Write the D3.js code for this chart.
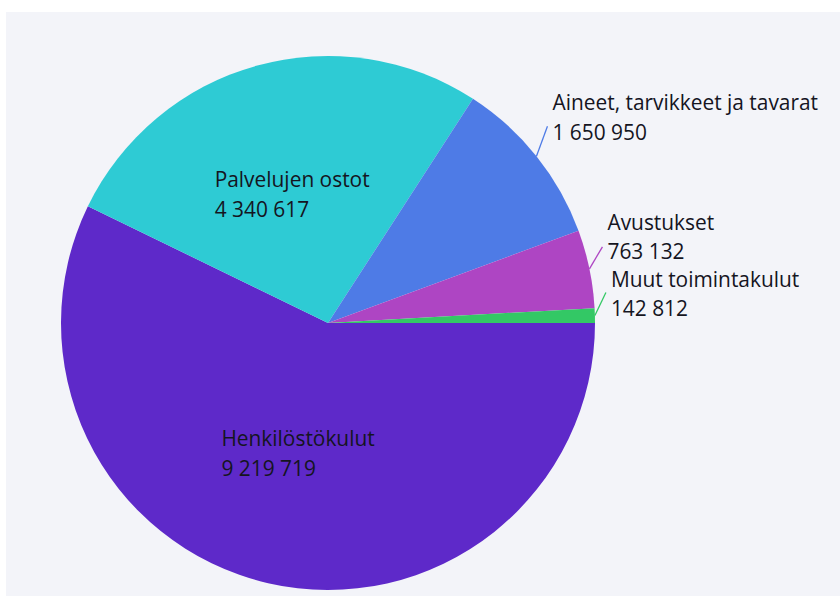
<!DOCTYPE html>
<html><head><meta charset="utf-8">
<script src="https://cdn.jsdelivr.net/npm/d3@7"></script>
<style>body{margin:0;background:#fff;}svg{display:block;}</style>
</head><body>
<svg id="c" width="840" height="596"></svg>
<script>
const categories = ["Henkilöstökulut","Palvelujen ostot","Aineet, tarvikkeet ja tavarat","Avustukset","Muut toimintakulut"];
const values = [9219719, 4340617, 1650950, 763132, 142812];
const colors = ["#5e29c9","#2ecbd4","#4e7be6","#ae45c3","#33c865"];
// label placement: inside (centroid) or outside with leader offsets
const labelMode = ["inside","inside","outside","outside","outside"];
const leaderDx = [0,0,11,13,11];
const leaderDy = [0,0,-30,-22,-23];
const textDy = [0,0,-16,-17,-6];

const fmt = v => d3.format(",")(v).replace(/,/g," ");
const svg = d3.select("#c");
svg.append("rect").attr("x",6).attr("y",12).attr("width",834).attr("height",584).attr("fill","#f3f4f9");

const cx = 328, cy = 323, r = 267;
const g = svg.append("g").attr("transform",`translate(${cx},${cy})`);
const data = categories.map((c,i)=>({c,v:values[i],i}));
const pie = d3.pie().value(d=>d.v).sort(null).startAngle(Math.PI/2).endAngle(Math.PI/2+2*Math.PI);
const arcs = pie(data);
const arc = d3.arc().innerRadius(0).outerRadius(r);
g.selectAll("path.s").data(arcs).join("path").attr("class","s")
  .attr("d",arc).attr("fill",d=>colors[d.data.i]);

const font = "'Segoe UI','Open Sans','Noto Sans',sans-serif";
const fs = 20.9;
arcs.forEach(a=>{
  const i = a.data.i;
  const mid = (a.startAngle+a.endAngle)/2;
  if(labelMode[i]==="inside"){
    const px = Math.sin(mid)*r*0.5, py = -Math.cos(mid)*r*0.5;
    const t = g.append("text").attr("font-family",font).attr("font-size",fs).attr("fill","#15151f");
    t.append("tspan").attr("x",0).attr("y",py-7).text(a.data.c);
    t.append("tspan").attr("x",0).attr("y",py+23).text(fmt(a.data.v));
    const w = t.node().getBBox().width;
    t.selectAll("tspan").attr("x",px-w/2);
  } else {
    const sx = Math.sin(mid)*r, sy = -Math.cos(mid)*r;
    const ex = sx+leaderDx[i], ey = sy+leaderDy[i];
    g.append("line").attr("x1",sx).attr("y1",sy).attr("x2",ex).attr("y2",ey)
      .attr("stroke",colors[i]).attr("stroke-width",1.3);
    const t = g.append("text").attr("font-family",font).attr("font-size",fs).attr("fill","#15151f");
    t.append("tspan").attr("x",ex+5).attr("y",ey+textDy[i]).text(a.data.c);
    t.append("tspan").attr("x",ex+5).attr("y",ey+textDy[i]+29.5).text(fmt(a.data.v));
  }
});
</script>
</body></html>
